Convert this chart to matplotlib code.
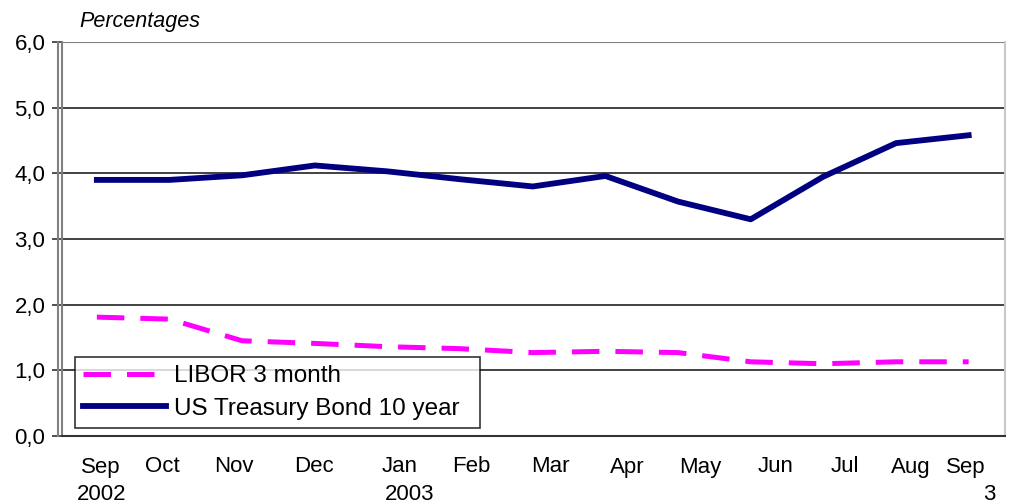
import matplotlib
matplotlib.use("Agg")
import matplotlib.pyplot as plt
from matplotlib.lines import Line2D
from matplotlib.transforms import blended_transform_factory

plt.rcParams['font.family'] = ['Liberation Sans', 'DejaVu Sans']

months = ['Sep', 'Oct', 'Nov', 'Dec', 'Jan', 'Feb', 'Mar', 'Apr', 'May', 'Jun', 'Jul', 'Aug', 'Sep']
treasury = [3.90, 3.90, 3.97, 4.12, 4.03, 3.91, 3.80, 3.96, 3.57, 3.30, 3.95, 4.46, 4.58]
libor = [1.81, 1.78, 1.45, 1.41, 1.36, 1.33, 1.27, 1.29, 1.27, 1.13, 1.10, 1.13, 1.13]
yticks = [0, 1, 2, 3, 4, 5, 6]

# where the month labels sit (in category units, as in the original)
month_label_pos = [0.06, 0.90, 1.89, 2.99, 4.17, 5.15, 6.24, 7.30, 8.31, 9.34, 10.30, 11.20, 11.96]
year_labels = [('2002', 0.06), ('2003', 4.30), ('3', 12.28)]

W, H = 1009, 501
fig = plt.figure(figsize=(W / 100, H / 100), dpi=100)
left, right, bottom, top = 62 / W, 1005 / W, (H - 436) / H, (H - 42) / H
ax = fig.add_axes([left, bottom, right - left, top - bottom])

x = list(range(len(months)))
ax.plot(x, libor, color='#FF00FF', linewidth=3.6, dashes=(5.5, 3.2),
        label='LIBOR 3 month', dash_capstyle='butt')
ax.plot(x, treasury, color='#000080', linewidth=4.2, label='US Treasury Bond 10 year')

ax.set_xlim(-0.48, 12.5)
ax.set_ylim(0, 6)
ax.set_yticks(yticks)
ax.set_yticklabels([('%.1f' % v).replace('.', ',') for v in yticks], fontsize=16)
ax.tick_params(axis='y', direction='out', length=7, width=1.2, color='#333333', pad=5)
ax.set_xticks([])

for v in yticks[1:-1]:
    ax.axhline(v, color='#333333', linewidth=1.3, zorder=0)
ax.axhline(6, color='#808080', linewidth=1.5, zorder=0)

ax.spines['top'].set_visible(False)
ax.spines['right'].set_color('#c8c8c8')
ax.spines['right'].set_linewidth(1.5)
ax.spines['left'].set_color('#808080')
ax.spines['left'].set_linewidth(1.5)
ax.spines['bottom'].set_color('#333333')
ax.spines['bottom'].set_linewidth(1.5)

# second line of the doubled y axis
fig.add_artist(Line2D([58 / W, 58 / W], [bottom, top], transform=fig.transFigure,
                      color='#808080', linewidth=1.5))

trans = blended_transform_factory(ax.transData, ax.transAxes)
for name, pos in zip(months, month_label_pos):
    ax.text(pos, -31 / 394, name, transform=trans, ha='center', va='center', fontsize=16)
for name, pos in year_labels:
    ax.text(pos, -58 / 394, name, transform=trans, ha='center', va='center', fontsize=16)

fig.text(79 / W, 1 - 22 / H, 'Percentages', fontsize=15.5, style='italic', ha='left', va='center')

leg = ax.legend(loc='lower left',
                bbox_to_anchor=((75 - 62) / 943, (436 - 428) / 394, 405 / 943, 71 / 394),
                mode='expand', fontsize=17.5, frameon=True, fancybox=False, handlelength=3.4,
                borderpad=0.33, labelspacing=0.45, handletextpad=0.35, borderaxespad=0)
leg.get_frame().set_edgecolor('black')
leg.get_frame().set_linewidth(1.2)

fig.savefig('out.png', dpi=100)
